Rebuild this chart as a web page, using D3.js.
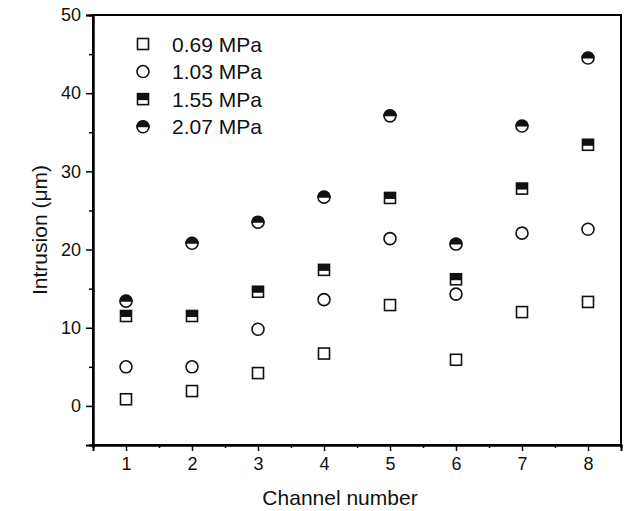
<!DOCTYPE html>
<html><head><meta charset="utf-8">
<script src="https://cdn.jsdelivr.net/npm/d3@7"></script>
<style>
html,body{margin:0;padding:0;background:#fff;}
svg{display:block;font-family:"Liberation Sans",Arial,sans-serif;}
</style></head>
<body><svg id="c" width="632" height="511"></svg>
<script>
const channels = [1,2,3,4,5,6,7,8];
const seriesNames = ["0.69 MPa","1.03 MPa","1.55 MPa","2.07 MPa"];
const s069 = [0.85, 1.9, 4.2, 6.7, 12.9, 5.9, 12.0, 13.3];
const s103 = [5.0, 5.0, 9.8, 13.6, 21.4, 14.3, 22.1, 22.6];
const s155 = [11.5, 11.5, 14.6, 17.4, 26.6, 16.2, 27.8, 33.4];
const s207 = [13.4, 20.8, 23.5, 26.7, 37.1, 20.7, 35.8, 44.5];
const yTicks = [0,10,20,30,40,50];
const yMinor = [-5,5,15,25,35,45];
const xMinor = [0.5,1.5,2.5,3.5,4.5,5.5,6.5,7.5,8.5];

const svg = d3.select("#c");
const L=93, R=621, T=15, B=445;
const x = d3.scaleLinear().domain([0.5,8.5]).range([L,R]);
const y = d3.scaleLinear().domain([-5,50]).range([B,T]);

// frame
svg.append("rect").attr("x",L).attr("y",T).attr("width",R-L).attr("height",B-T)
  .attr("fill","none").attr("stroke","#000").attr("stroke-width",2);

// axes
const yAxis = d3.axisLeft(y).tickValues(yTicks).tickSize(7).tickPadding(5).tickFormat(d3.format("d"));
svg.append("g").attr("transform",`translate(${L},0)`).call(yAxis);
const yAxisMinor = d3.axisLeft(y).tickValues(yMinor).tickSize(4).tickFormat("");
svg.append("g").attr("transform",`translate(${L},0)`).call(yAxisMinor);
const xAxis = d3.axisBottom(x).tickValues(channels).tickSize(6).tickPadding(6).tickFormat(d3.format("d"));
svg.append("g").attr("transform",`translate(0,${B})`).call(xAxis);
const xAxisMinor = d3.axisBottom(x).tickValues(xMinor).tickSize(3).tickFormat("");
svg.append("g").attr("transform",`translate(0,${B})`).call(xAxisMinor);
svg.selectAll(".domain").attr("stroke","#000").attr("stroke-width",2);
svg.selectAll(".tick line").attr("stroke","#000").attr("stroke-width",1.5);
svg.selectAll(".tick text").attr("fill","#111").style("font-size","18px");

// titles
svg.append("text").attr("x",340).attr("y",505).attr("text-anchor","middle")
  .style("font-size","21px").attr("fill","#111").text("Channel number");
svg.append("text").attr("transform",`translate(47,${(T+B)/2}) rotate(-90)`).attr("text-anchor","middle")
  .style("font-size","21px").attr("fill","#111").text("Intrusion (μm)");

// markers
function drawMarker(g, type){
  const sw=1.6, r=6;
  if(type===0){
    g.append("rect").attr("x",-5.5).attr("y",-5.5).attr("width",11).attr("height",11)
      .attr("fill","#fff").attr("stroke","#111").attr("stroke-width",sw);
  } else if(type===1){
    g.append("circle").attr("r",r).attr("fill","#fff").attr("stroke","#111").attr("stroke-width",sw);
  } else if(type===2){
    g.append("rect").attr("x",-5.5).attr("y",-5.5).attr("width",11).attr("height",11)
      .attr("fill","#fff").attr("stroke","#111").attr("stroke-width",sw);
    g.append("rect").attr("x",-5.5).attr("y",-5.5).attr("width",11).attr("height",6.5).attr("fill","#111");
  } else {
    g.append("circle").attr("r",r).attr("fill","#fff").attr("stroke","#111").attr("stroke-width",sw);
    const rr=r+0.8;
    g.append("path").attr("d",`M${-rr},0.5 A${rr},${rr} 0 0 1 ${rr},0.5 Z`).attr("fill","#111");
  }
}
const allSeries=[s069,s103,s155,s207];
allSeries.forEach((vals,si)=>{
  const g = svg.append("g");
  g.selectAll("g").data(channels.map((c,i)=>({c,v:vals[i]}))).enter().append("g")
    .attr("transform",d=>`translate(${x(d.c)},${y(d.v)})`)
    .each(function(){drawMarker(d3.select(this),si);});
});

// legend
const legY = d3.scalePoint().domain(seriesNames).range([44,126.7]);
seriesNames.forEach((n,i)=>{
  const g = svg.append("g").attr("transform",`translate(143,${legY(n)})`);
  drawMarker(g,i);
  svg.append("text").attr("x",172).attr("y",legY(n)).attr("dy","0.36em")
    .style("font-size","21px").attr("fill","#111").text(n);
});
</script></body></html>
